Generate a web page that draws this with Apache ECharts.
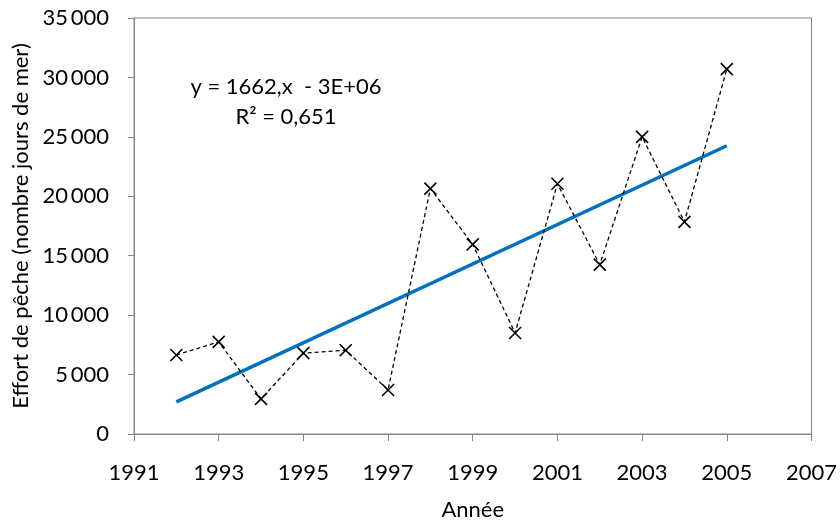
<!DOCTYPE html>
<html><head><meta charset="utf-8">
<script src="https://cdn.jsdelivr.net/npm/echarts@6/dist/echarts.min.js"></script>
<style>html,body{margin:0;padding:0;background:#fff}#c{width:840px;height:526px}</style>
</head><body><div id="c"></div>
<script>
const years = [1992,1993,1994,1995,1996,1997,1998,1999,2000,2001,2002,2003,2004,2005];
const effort = [6650,7750,2950,6800,7050,3700,20650,15950,8500,21050,14250,25000,17850,30700];
const trendYears = [1992, 2005];
const trendValues = [2700, 24250];
const equationLines = ['y = 1662,x  - 3E+06', 'R² = 0,651'];
const xTitle = 'Année';
const yTitle = 'Effort de pêche (nombre jours de mer)';

const F = 'Lato, "Open Sans", sans-serif';
const FS = 22;
const fmtY = v => String(v).replace(/\B(?=(\d{3})+(?!\d))/g, '\u2009');
const chart = echarts.init(document.getElementById('c'));
chart.setOption({
  animation: false,
  grid: {left: 134, right: 26, top: 18, bottom: 91, show: true, borderColor: '#868686', borderWidth: 1},
  xAxis: {
    type: 'value', min: 1991, max: 2007, interval: 2,
    name: xTitle, nameLocation: 'middle', nameGap: 65,
    nameTextStyle: {fontFamily: F, fontSize: FS, color: '#000'},
    axisLine: {lineStyle: {color: '#868686'}},
    axisTick: {show: true, length: 7, lineStyle: {color: '#868686'}},
    axisLabel: {fontFamily: F, fontSize: FS, color: '#000', margin: 28, formatter: v => String(v)},
    splitLine: {show: false}
  },
  yAxis: {
    type: 'value', min: 0, max: 35000, interval: 5000,
    name: yTitle, nameLocation: 'middle', nameGap: 101, nameRotate: 90,
    nameTextStyle: {fontFamily: F, fontSize: FS, color: '#000'},
    axisLine: {show: true, lineStyle: {color: '#868686'}},
    axisTick: {show: true, length: 6, lineStyle: {color: '#868686'}},
    axisLabel: {fontFamily: F, fontSize: FS, color: '#000', margin: 25, formatter: fmtY},
    splitLine: {show: false}
  },
  graphic: equationLines.map((t, i) => ({
    type: 'text', x: 286, y: 87 + i * 30,
    style: {text: t, fontFamily: F, fontSize: FS, fill: '#000', align: 'center', verticalAlign: 'middle'}
  })),
  series: [
    {
      type: 'line', data: years.map((y, i) => [y, effort[i]]),
      symbol: 'path://M0,0L10,10M10,0L0,10', symbolSize: 12,
      itemStyle: {color: 'none', borderColor: '#000', borderWidth: 1.6},
      lineStyle: {color: '#000', width: 1.3, type: [4, 3]},
      z: 3
    },
    {
      type: 'line', data: trendYears.map((y, i) => [y, trendValues[i]]),
      symbol: 'none', lineStyle: {color: '#0070C0', width: 3.5}, z: 2
    }
  ]
});
</script></body></html>
